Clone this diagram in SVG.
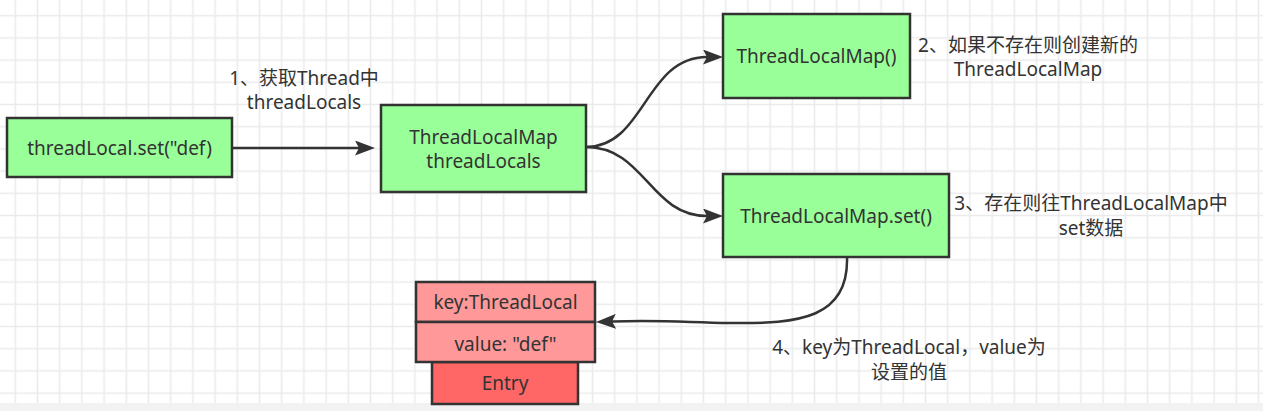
<svg xmlns="http://www.w3.org/2000/svg" width="1263" height="411" viewBox="0 0 1263 411">
  <defs>
    <pattern id="grid" x="4.2" y="4.6" width="22.2" height="22.2" patternUnits="userSpaceOnUse">
      <path d="M11.1,0 V22.2 M0,11.1 H22.2" stroke="#ebebeb" stroke-width="1.6" fill="none"/>
    </pattern>
    <marker id="arr" viewBox="0 0 20 15" refX="4" refY="7.5" markerWidth="20" markerHeight="15" markerUnits="userSpaceOnUse" orient="auto">
      <path d="M0,0 L20,7.5 L0,15 L4,7.5 Z" fill="#333333"/>
    </marker>
  </defs>
  <style>
    .node { stroke: #333333; stroke-width: 2.5; }
    .green { fill: #99ff99; }
    .pink { fill: #ff9999; }
    .red { fill: #ff6666; }
    text { font-family: "Noto Sans", "Noto Sans CJK SC", sans-serif; font-size: 19px; fill: #333333; text-anchor: middle; }
    .edge { fill: none; stroke: #333333; stroke-width: 2.5; marker-end: url(#arr); }
  </style>
  <rect x="0" y="0" width="1263" height="411" fill="#ffffff"/>
  <rect x="0" y="0" width="1263" height="403" fill="url(#grid)"/>
  <rect x="0" y="403" width="1263" height="8" fill="#f2f2f2"/>

  <g id="connectors">
    <path class="edge" d="M232,148 L359,148"/>
    <path class="edge" d="M586,147 C645,147 645,57 707,57"/>
    <path class="edge" d="M586,147 C645,147 650,216 707,216"/>
    <path class="edge" d="M847,257 C849,318 800,324 730,323 C680,322 660,320 612,321.5"/>
  </g>

  <g id="node-threadLocal-set">
    <rect class="node green" x="7" y="118" width="225" height="59"/>
    <text x="119.5" y="154.5">threadLocal.set("def)</text>
  </g>
  <g id="node-threadLocals">
    <rect class="node green" x="381" y="105" width="205" height="87"/>
    <text x="483.5" y="144">ThreadLocalMap</text>
    <text x="483.5" y="168">threadLocals</text>
  </g>
  <g id="node-new-map">
    <rect class="node green" x="723" y="14" width="187" height="84"/>
    <text x="816.5" y="63">ThreadLocalMap()</text>
  </g>
  <g id="node-map-set">
    <rect class="node green" x="723" y="174" width="226" height="83"/>
    <text x="836" y="223">ThreadLocalMap.set()</text>
  </g>
  <g id="node-entry">
    <rect class="node red" x="432" y="362" width="146" height="42"/>
    <rect class="node pink" x="416" y="282" width="179" height="40"/>
    <rect class="node pink" x="416" y="322" width="179" height="40"/>
    <text x="505.5" y="308.5">key:ThreadLocal</text>
    <text x="505.5" y="350.5">value: "def"</text>
    <text x="505" y="389.5">Entry</text>
  </g>

  <g id="labels">
    <text x="304" y="85">1、获取Thread中</text>
    <text x="304" y="109">threadLocals</text>
    <text x="1028" y="51.5">2、如果不存在则创建新的</text>
    <text x="1028" y="76">ThreadLocalMap</text>
    <text x="1091" y="210">3、存在则往ThreadLocalMap中</text>
    <text x="1091" y="235">set数据</text>
    <text x="909" y="354">4、key为ThreadLocal，value为</text>
    <text x="909" y="378.5">设置的值</text>
  </g>
</svg>
